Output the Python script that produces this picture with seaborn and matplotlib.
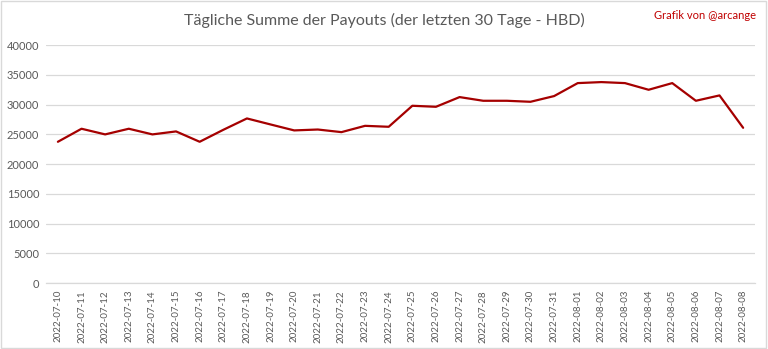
import matplotlib
matplotlib.use("Agg")
import matplotlib.pyplot as plt
import seaborn as sns
import pandas as pd
from matplotlib.patches import Rectangle

# Daily payout totals (HBD) over the last 30 days
dates = [
    "2022-07-10", "2022-07-11", "2022-07-12", "2022-07-13", "2022-07-14",
    "2022-07-15", "2022-07-16", "2022-07-17", "2022-07-18", "2022-07-19",
    "2022-07-20", "2022-07-21", "2022-07-22", "2022-07-23", "2022-07-24",
    "2022-07-25", "2022-07-26", "2022-07-27", "2022-07-28", "2022-07-29",
    "2022-07-30", "2022-07-31", "2022-08-01", "2022-08-02", "2022-08-03",
    "2022-08-04", "2022-08-05", "2022-08-06", "2022-08-07", "2022-08-08",
]
payouts = [
    23740, 25930, 24980, 25930, 24980,
    25480, 23740, 25750, 27660, 26650,
    25650, 25800, 25360, 26420, 26260,
    29790, 29620, 31250, 30630, 30630,
    30460, 31420, 33600, 33770, 33600,
    32480, 33600, 30630, 31530, 26090,
]
y_ticks = [0, 5000, 10000, 15000, 20000, 25000, 30000, 35000, 40000]

df = pd.DataFrame({"date": dates, "payout": payouts})

sns.set_theme(style="white")
plt.rcParams["font.family"] = ["Lato", "DejaVu Sans"]

text_grey = "#595959"
fig = plt.figure(figsize=(7.68, 3.49), dpi=100)
ax = fig.add_axes([0.060, 0.189, 0.923, 0.682])

sns.lineplot(data=df, x="date", y="payout", ax=ax, color="#A50000",
             linewidth=1.6, sort=False)

ax.set_xlim(-0.5, len(dates) - 0.5)
ax.set_ylim(0, 40000)
ax.set_yticks(y_ticks)
ax.set_yticklabels([str(v) for v in y_ticks], fontsize=8, color=text_grey)
ax.set_xticks(range(len(dates)))
ax.set_xticklabels(dates, rotation=90, fontsize=7, color=text_grey)
ax.tick_params(axis="both", length=0, pad=5)
ax.yaxis.grid(True, color="#D9D9D9", linewidth=0.9)
ax.set_axisbelow(True)
for side in ["top", "right", "left"]:
    ax.spines[side].set_visible(False)
ax.spines["bottom"].set_color("#D9D9D9")
ax.spines["bottom"].set_linewidth(0.9)
ax.set_xlabel("")
ax.set_ylabel("")

fig.text(0.5, 0.94, "Tägliche Summe der Payouts (der letzten 30 Tage - HBD)",
         ha="center", va="center", fontsize=11.5, color=text_grey)
fig.text(0.985, 0.955, "Grafik von @arcange", ha="right", va="center",
         fontsize=8, color="#C00000")

# light chart-area frame
fig.patches.append(Rectangle((0.001, 0.002), 0.997, 0.995, transform=fig.transFigure,
                             fill=False, edgecolor="#D9D9D9", linewidth=1.0))

fig.savefig("out.png", dpi=100)
